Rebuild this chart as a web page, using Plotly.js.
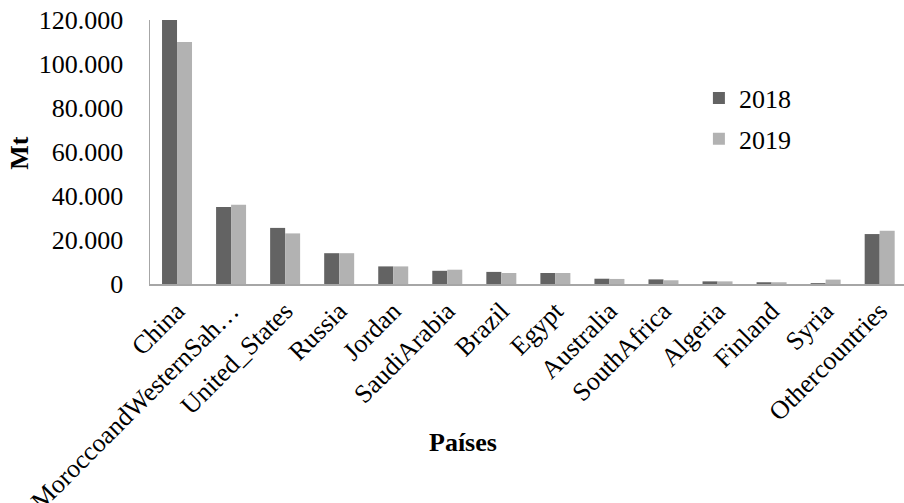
<!DOCTYPE html>
<html>
<head>
<meta charset="utf-8">
<script src="https://cdn.plot.ly/plotly-3.0.1.min.js"></script>
<style>
  html, body { margin: 0; padding: 0; background: #fff; }
  #chart { width: 904px; height: 503px; }
</style>
</head>
<body>
<div id="chart"></div>
<script>
// Phosphate rock production by country (Mt)
const countries = ["China", "MoroccoandWesternSah…", "United_States", "Russia", "Jordan",
  "SaudiArabia", "Brazil", "Egypt", "Australia", "SouthAfrica", "Algeria", "Finland",
  "Syria", "Othercountries"];
const values2018 = [120000, 35000, 25500, 14000, 8000, 6000, 5500, 5000, 2400, 2100, 1200, 800, 400, 22700];
const values2019 = [110000, 36000, 23000, 14000, 8000, 6500, 5000, 5000, 2300, 1700, 1200, 800, 2000, 24200];
const yTicks = [0, 20000, 40000, 60000, 80000, 100000, 120000];

const serif = "Times New Roman, Liberation Serif, serif";

const traces = [
  { type: "bar", name: "2018", x: countries, y: values2018, legendgroup: "a",
    marker: { color: "#636363" }, hoverinfo: "x+y" },
  { type: "bar", name: "2019", x: countries, y: values2019, legendgroup: "b",
    marker: { color: "#b2b2b2" }, hoverinfo: "x+y" }
];

const layout = {
  width: 904, height: 503,
  margin: { l: 150, r: 0, t: 20, b: 219 },
  paper_bgcolor: "#fff", plot_bgcolor: "#fff",
  separators: ",.",
  font: { family: serif, size: 26, color: "#000" },
  barmode: "group", bargap: 0.445, bargroupgap: 0,
  showlegend: true,
  legend: { x: 0.728, y: 0.793, xanchor: "left", yanchor: "top",
    bgcolor: "rgba(0,0,0,0)", font: { family: serif, size: 26 },
    itemwidth: 30, tracegroupgap: 4 },
  xaxis: {
    type: "category", range: [-0.5, 13.45], tickangle: -45,
    showline: true, linecolor: "#a6a6a6", linewidth: 1.5,
    ticks: "", showgrid: false, zeroline: false, automargin: false,
    tickfont: { family: serif, size: 26 }
  },
  yaxis: {
    range: [0, 120000], tickvals: yTicks, tickformat: ",d",
    showline: true, linecolor: "#a6a6a6", linewidth: 1.5,
    ticks: "", showgrid: false, zeroline: false, automargin: false,
    tickfont: { family: serif, size: 26 }, ticklabelstandoff: 20
  },
  annotations: [
    { text: "<b>Mt</b>", xref: "paper", yref: "paper", x: -0.174, y: 0.496,
      xanchor: "center", yanchor: "middle", textangle: -90, showarrow: false,
      font: { family: serif, size: 26 } },
    { text: "<b>Países</b>", xref: "paper", yref: "paper", x: 0.415, y: -0.602,
      xanchor: "center", yanchor: "middle", showarrow: false,
      font: { family: serif, size: 26 } }
  ]
};

Plotly.newPlot("chart", traces, layout, { displayModeBar: false, staticPlot: true });
</script>
</body>
</html>
